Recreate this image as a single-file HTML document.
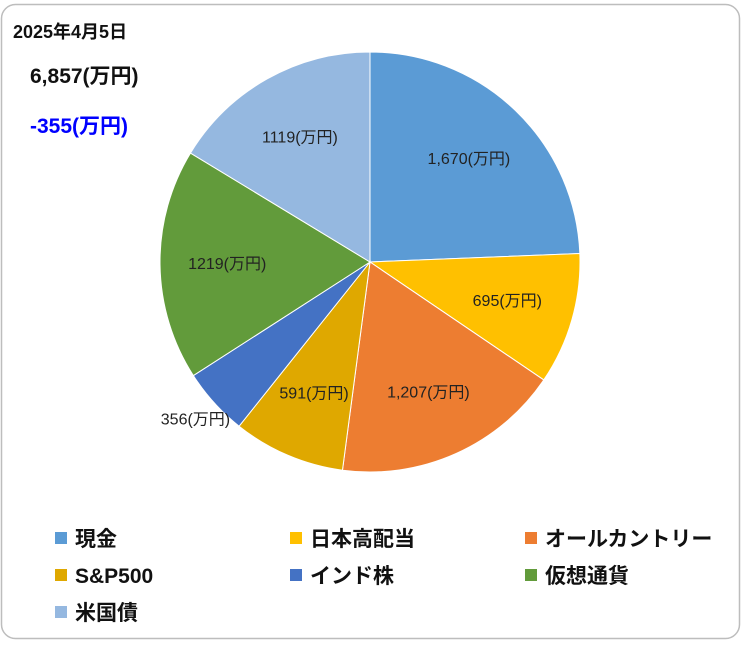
<!DOCTYPE html>
<html><head><meta charset="utf-8"><style>
body{margin:0;background:#fff;font-family:"Liberation Sans","Noto Sans CJK JP",sans-serif}
#wrap{position:relative;width:742px;height:641px}
</style></head><body>
<div id="wrap">
<svg width="742" height="641" id="svg">
<rect x="1.5" y="4.5" width="738" height="634" rx="14" fill="#fff" stroke="#bdbdbd" stroke-width="1.5"/>
<text x="13" y="38" font-size="18" font-weight="bold" fill="#111">2025年4月5日</text>
<text x="30" y="83" font-size="21" font-weight="bold" fill="#111">6,857(万円)</text>
<text x="30" y="133" font-size="21" font-weight="bold" fill="#0000ff">-355(万円)</text>
<g id="slices"></g><g id="labels"></g><g id="legend"></g>
</svg>
</div>
<script>
const categories=["現金","日本高配当","オールカントリー","S&P500","インド株","仮想通貨","米国債"];
const values=[1670,695,1207,591,356,1219,1119];
const valueLabels=["1,670(万円)","695(万円)","1,207(万円)","591(万円)","356(万円)","1219(万円)","1119(万円)"];
const colors=["#5B9BD5","#FFC000","#ED7D31","#DFA800","#4472C4","#629B3B","#95B8E0"];
const NS="http://www.w3.org/2000/svg";
const cx=370,cy=262,r=210;
const total=values.reduce((a,b)=>a+b,0);
function pt(a,rad){return [cx+Math.sin(a)*rad,cy-Math.cos(a)*rad];}
let acc=0;
const sg=document.getElementById('slices'),lg=document.getElementById('labels'),leg=document.getElementById('legend');
values.forEach((v,i)=>{
  const a0=acc/total*2*Math.PI;acc+=v;const a1=acc/total*2*Math.PI;
  const p0=pt(a0,r),p1=pt(a1,r);const large=(a1-a0)>Math.PI?1:0;
  const p=document.createElementNS(NS,'path');
  p.setAttribute('d',`M${cx},${cy}L${p0[0]},${p0[1]}A${r},${r} 0 ${large} 1 ${p1[0]},${p1[1]}Z`);
  p.setAttribute('fill',colors[i]);p.setAttribute('stroke','#fff');p.setAttribute('stroke-width','1');
  
  
  sg.appendChild(p);
  const am=(a0+a1)/2;const lp=pt(am,v/total<0.06?r*1.12:r*0.68);
  const t=document.createElementNS(NS,'text');
  t.setAttribute('x',lp[0]);t.setAttribute('y',lp[1]+5);t.setAttribute('text-anchor','middle');
  t.setAttribute('font-size','16');t.setAttribute('fill','#222');t.textContent=valueLabels[i];
  
  
  lg.appendChild(t);
  const col=i%3,row=Math.floor(i/3);const lx=55+col*235,ly=538+row*37;
  const g=document.createElementNS(NS,'g');
  
  
  const s=document.createElementNS(NS,'rect');
  s.setAttribute('x',lx);s.setAttribute('y',ly-6);s.setAttribute('width',12);s.setAttribute('height',12);s.setAttribute('fill',colors[i]);
  const lt=document.createElementNS(NS,'text');
  lt.setAttribute('x',lx+20);lt.setAttribute('y',ly+8);lt.setAttribute('font-size','21');lt.setAttribute('font-weight','bold');lt.setAttribute('fill','#111');lt.textContent=categories[i];
  g.appendChild(s);g.appendChild(lt);leg.appendChild(g);
});
</script>
</body></html>
